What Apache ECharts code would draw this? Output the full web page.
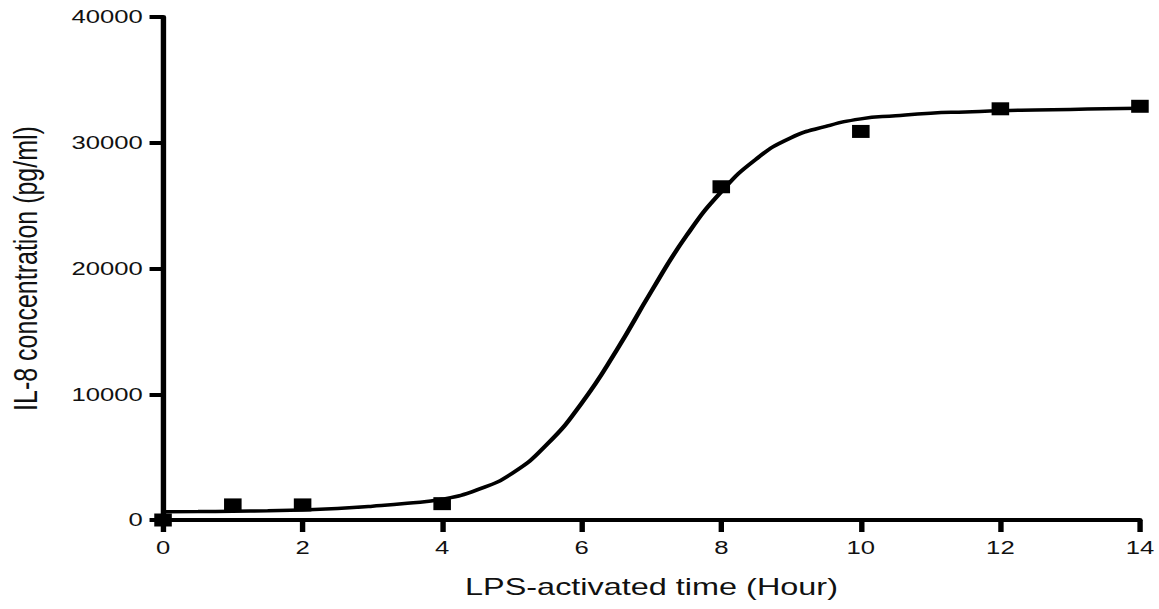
<!DOCTYPE html>
<html>
<head>
<meta charset="utf-8">
<title>IL-8 concentration</title>
<script src="https://cdn.jsdelivr.net/npm/echarts@6/dist/echarts.min.js"></script>
<style>
html, body {
  margin: 0;
  padding: 0;
  background: #fff;
  overflow: hidden;
}
/* the reference picture is stretched sideways, so the chart is drawn narrower and widened */
#main {
  width: 858px;
  height: 609px;
  transform: scaleX(1.3508);
  transform-origin: 0 0;
}
</style>
</head>
<body>
<div id="main"></div>
<script>
// measured points
var times = [0, 1, 2, 4, 8, 10, 12, 14]
var il8 = [0, 1200, 1200, 1300, 26500, 30900, 32700, 32900]

// fitted curve, every half hour
var fitTimes = [0, 0.5, 1, 1.5, 2, 2.5, 3, 3.5, 4, 4.5, 5, 5.5, 6, 6.5, 7,
  7.5, 8, 8.5, 9, 9.5, 10, 10.5, 11, 11.5, 12, 12.5, 13, 13.5, 14]
var fitIl8 = [650, 670, 700, 740, 800, 920, 1100, 1330, 1650, 2400, 3700, 6000, 9300, 13500, 18200,
  22600, 26100, 28700, 30400, 31300, 31900, 32150, 32350, 32450, 32550, 32600, 32650, 32700, 32750]

var xTicks = [0, 2, 4, 6, 8, 10, 12, 14]
var yTicks = [0, 10000, 20000, 30000, 40000]

var font = "'Liberation Sans', Arial, sans-serif"
var ink = '#000'

var pointData = []
for (var i = 0; i < times.length; i++) {
  pointData.push([times[i], il8[i]])
}
var fitData = []
for (var j = 0; j < fitTimes.length; j++) {
  fitData.push([fitTimes[j], fitIl8[j]])
}

var myChart = echarts.init(document.getElementById('main'), null, { renderer: 'svg' })
myChart.setOption({
  animation: false,
  grid: {
    left: 120.7,
    right: 14.1,
    top: 17,
    bottom: 89,
    outerBoundsMode: 'none'
  },
  xAxis: {
    type: 'value',
    min: xTicks[0],
    max: xTicks[xTicks.length - 1],
    interval: xTicks[1] - xTicks[0],
    name: 'LPS-activated time (Hour)',
    nameLocation: 'middle',
    nameGap: 55,
    nameTextStyle: { fontFamily: font, fontSize: 24, color: '#111' },
    axisLine: { lineStyle: { color: ink, width: 4 } },
    axisTick: { length: 12, lineStyle: { color: ink, width: 4 } },
    axisLabel: { margin: 18, fontFamily: font, fontSize: 19, color: '#111' },
    splitLine: { show: false }
  },
  yAxis: {
    type: 'value',
    min: yTicks[0],
    max: yTicks[yTicks.length - 1],
    interval: yTicks[1] - yTicks[0],
    name: 'IL-8 concentration (pg/ml)',
    nameLocation: 'middle',
    nameRotate: 90,
    nameGap: 90,
    nameTextStyle: { fontFamily: font, fontSize: 25, color: '#111' },
    axisLine: { show: true, lineStyle: { color: ink, width: 4 } },
    axisTick: { show: true, length: 10, lineStyle: { color: ink, width: 4 } },
    axisLabel: {
      margin: 15,
      fontFamily: font,
      fontSize: 19,
      color: '#111',
      formatter: function (v) { return String(v) }
    },
    splitLine: { show: false }
  },
  series: [
    {
      name: 'fit',
      type: 'line',
      data: fitData,
      smooth: 0.5,
      showSymbol: false,
      lineStyle: { color: ink, width: 3.5 },
      z: 2
    },
    {
      name: 'IL-8',
      type: 'scatter',
      data: pointData,
      symbol: 'rect',
      symbolSize: 13,
      itemStyle: { color: ink, opacity: 1 },
      clip: false,
      z: 3
    }
  ]
})
</script>
</body>
</html>
